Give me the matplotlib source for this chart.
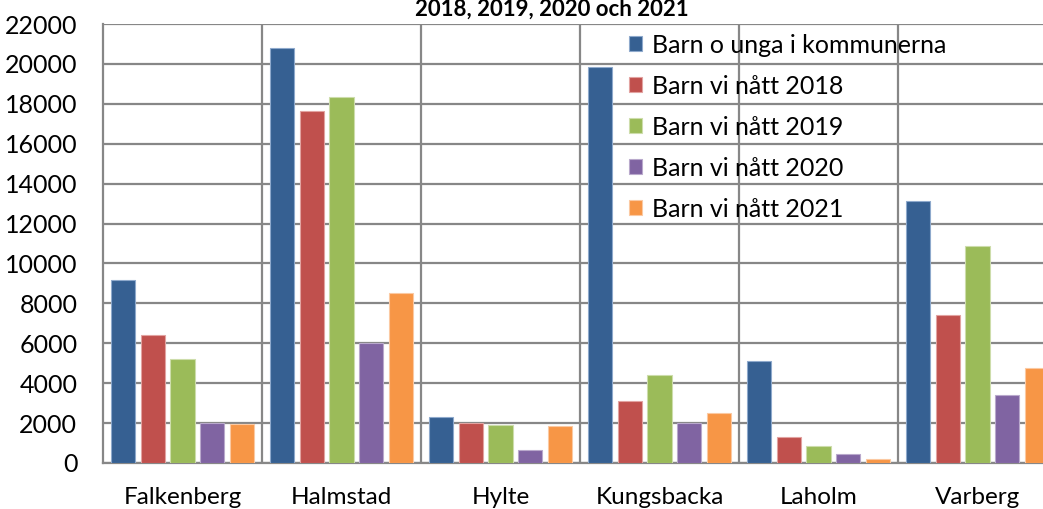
import numpy as np
import matplotlib.pyplot as plt

plt.rcParams['font.family'] = ['Lato', 'DejaVu Sans']

kommuner = ['Falkenberg', 'Halmstad', 'Hylte', 'Kungsbacka', 'Laholm', 'Varberg']
serier = ['Barn o unga i kommunerna', 'Barn vi nått 2018', 'Barn vi nått 2019',
          'Barn vi nått 2020', 'Barn vi nått 2021']

barn_unga = [9180, 20800, 2300, 19850, 5100, 13150]
natt_2018 = [6400, 17640, 2000, 3100, 1300, 7400]
natt_2019 = [5200, 18330, 1900, 4400, 850, 10870]
natt_2020 = [2000, 6000, 650, 2000, 450, 3400]
natt_2021 = [1950, 8500, 1850, 2500, 200, 4750]

farger = ['#366092', '#C0504D', '#9BBB59', '#8064A2', '#F79646']
kanter = ['#8EA9CC', '#E2A3A1', '#CDDDAB', '#B9A9CC', '#FBC9A2']

data = [barn_unga, natt_2018, natt_2019, natt_2020, natt_2021]

fig = plt.figure(figsize=(10.43, 5.09), dpi=100)
ax = fig.add_axes([103/1043, 46/509, 954/1043, 439/509])

x = np.arange(len(kommuner))
slot = 0.187
bw = 0.151
for i, vals in enumerate(data):
    ax.bar(x + (i - 2) * slot, vals, width=bw, color=farger[i],
           edgecolor=kanter[i], linewidth=0.8, label=serier[i], zorder=3)

grid_c = '#878787'
ax.set_xlim(-0.5, 5.5)
ax.set_ylim(0, 22000)
ax.set_yticks(range(0, 22001, 2000))
ax.set_xticks(x)
ax.set_xticklabels(kommuner)
ax.set_xticks(np.arange(0.5, 5.5, 1), minor=True)
ax.tick_params(axis='x', which='both', length=0, pad=17, labelsize=17.5)
ax.tick_params(axis='y', length=0, pad=18.5, labelsize=18)
ax.grid(axis='y', color=grid_c, linewidth=1.6, zorder=1)
ax.grid(axis='x', which='minor', color=grid_c, linewidth=1.6, zorder=1)
for s in ['top', 'right']:
    ax.spines[s].set_visible(False)
for s in ['left', 'bottom']:
    ax.spines[s].set_color(grid_c)
    ax.spines[s].set_linewidth(1.6)

fig.text(552/1043, 1 - 16/509, '2018, 2019, 2020 och 2021', ha='center',
         va='baseline', fontsize=16, fontweight='bold')

leg = ax.legend(loc='upper left', bbox_to_anchor=(0.551, 0.978), frameon=False,
                fontsize=18, handlelength=0.55, handleheight=0.55,
                handletextpad=0.4, labelspacing=0.72, borderpad=0,
                borderaxespad=0)

fig.savefig('out.png', dpi=100)
